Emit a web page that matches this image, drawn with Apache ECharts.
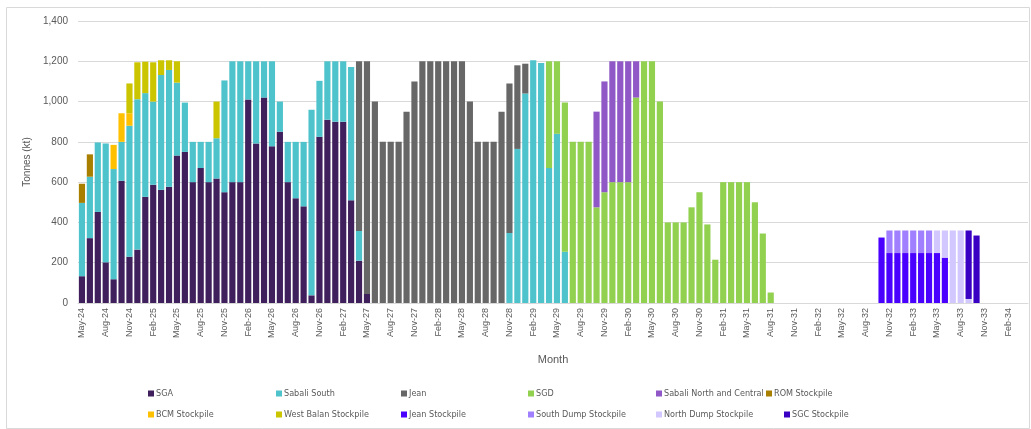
<!DOCTYPE html>
<html>
<head>
<meta charset="utf-8">
<script src="https://cdn.jsdelivr.net/npm/echarts@6/dist/echarts.min.js"></script>
<style>
  html, body { margin: 0; padding: 0; background: #fff; }
  #chart { width: 1031px; height: 429px; }
</style>
</head>
<body>
<div id="chart"></div>
<script>
// Monthly categories, May-24 .. Apr-34
const MONTH_NAMES = ['Jan','Feb','Mar','Apr','May','Jun','Jul','Aug','Sep','Oct','Nov','Dec'];
const FIRST_MONTH = 4;   // May
const FIRST_YEAR = 24;
const MONTH_COUNT = 120;
const months = [];
for (let i = 0; i < MONTH_COUNT; i++) {
  const m = FIRST_MONTH + i;
  months.push(MONTH_NAMES[m % 12] + '-' + (FIRST_YEAR + Math.floor(m / 12)));
}

// Tonnes (kt) per source; each list begins at the month index given by its *Start
const sgaStart = 0;
const sga = [133, 322, 452, 202, 118, 607, 230, 265, 527, 587, 562, 577, 732, 750, 600, 670, 600, 618,
             550, 600, 600, 1010, 792, 1020, 778, 850, 600, 520, 480, 38, 825, 910, 900, 900, 510, 210, 45];

const sabaliSouthStart = 0;
const sabaliSouth = [364, 305, 345, 590, 547, 193, 650, 747, 515, 413, 570, 580, 362, 245, 200, 130, 200, 200,
                     555, 600, 600, 190, 408, 180, 422, 150, 200, 280, 320, 922, 278, 290, 300, 300, 662, 148,
                     0, 0, 0, 0, 0, 0, 0, 0, 0, 0, 0, 0, 0, 0, 0, 0, 0, 0,
                     348, 765, 1040, 1205, 1192, 670, 840, 255];

const jeanStart = 35;
const jean = [842, 1155, 1000, 800, 800, 800, 950, 1100, 1200, 1200, 1200, 1200, 1200, 1200, 1000,
              800, 800, 800, 950, 742, 415, 148];

const sgdStart = 59;
const sgd = [530, 360, 740, 800, 800, 800, 475, 550, 600, 600, 600, 1020, 1200, 1200, 1000,
             400, 400, 400, 475, 550, 390, 215, 600, 600, 600, 600, 500, 345, 52];

const sabaliNorthStart = 65;
const sabaliNorth = [475, 550, 600, 600, 600, 180];

const romStart = 0;
const romStockpile = [95, 111];

const bcmStart = 4;
const bcmStockpile = [120, 142, 62];

const westBalanStart = 6;
const westBalanStockpile = [148, 183, 156, 195, 73, 48, 106, 0, 0, 0, 0, 182];

const jeanStockStart = 101;
const jeanStockpile = [325, 248, 248, 248, 248, 248, 248, 248, 225];

const southDumpStart = 102;
const southDumpStockpile = [112, 112, 112, 112, 112, 112];

const northDumpStart = 108;
const northDumpStockpile = [112, 135, 360, 360, 20];

const sgcStart = 112;
const sgcStockpile = [340, 335];

// Y axis ticks
const yMin = 0, yMax = 1400, yStep = 200;

function spread(start, values) {
  const out = new Array(MONTH_COUNT).fill('-');
  values.forEach((v, k) => { if (v) out[start + k] = v; });
  return out;
}

const seriesDefs = [
  { name: 'SGA', color: '#3F1F5C', data: spread(sgaStart, sga) },
  { name: 'Sabali South', color: '#4FC3CC', data: spread(sabaliSouthStart, sabaliSouth) },
  { name: 'Jean', color: '#676767', data: spread(jeanStart, jean) },
  { name: 'SGD', color: '#92D050', data: spread(sgdStart, sgd) },
  { name: 'Sabali North and Central', color: '#8F58C6', data: spread(sabaliNorthStart, sabaliNorth) },
  { name: 'ROM Stockpile', color: '#A97F00', data: spread(romStart, romStockpile) },
  { name: 'BCM Stockpile', color: '#FFC000', data: spread(bcmStart, bcmStockpile) },
  { name: 'West Balan Stockpile', color: '#CBC500', data: spread(westBalanStart, westBalanStockpile) },
  { name: 'Jean Stockpile', color: '#4A00FF', data: spread(jeanStockStart, jeanStockpile) },
  { name: 'South Dump Stockpile', color: '#A080FF', data: spread(southDumpStart, southDumpStockpile) },
  { name: 'North Dump Stockpile', color: '#D3C7FF', data: spread(northDumpStart, northDumpStockpile) },
  { name: 'SGC Stockpile', color: '#3900C4', data: spread(sgcStart, sgcStockpile) }
];

// Legend placement: two rows, six columns
const legendCols = [148, 276, 401, 528, 656, 766];
const legendRowTops = [389, 410];
const legendLayout = [
  [0, 0], [0, 1], [0, 2], [0, 3], [0, 4], [0, 5],
  [1, 0], [1, 1], [1, 2], [1, 3], [1, 4], [1, 5]
];
const legendFont = "'Liberation Sans Narrow', 'DejaVu Sans Condensed', 'Liberation Sans', Arial, sans-serif";
const legends = seriesDefs.map((s, i) => {
  const [row, col] = legendLayout[i];
  let left = legendCols[col];
  if (row === 1 && col === 5) left = 784;
  return {
    data: [s.name],
    left: left,
    top: legendRowTops[row],
    itemWidth: 6,
    itemHeight: 6,
    itemGap: 4,
    padding: 0,
    selectedMode: false,
    icon: 'rect',
    textStyle: { fontSize: 9, color: '#595959', fontFamily: legendFont, padding: [0, 0, 0, -3] }
  };
});

const chart = echarts.init(document.getElementById('chart'), null, { renderer: 'canvas' });
const axisFont = "'Liberation Sans', Arial, sans-serif";

chart.setOption({
  animation: false,
  backgroundColor: '#ffffff',
  grid: { left: 78, right: 3, top: 21, bottom: 126, containLabel: false },
  legend: legends,
  graphic: [{
    type: 'rect',
    shape: { x: 6.5, y: 7.5, width: 1023, height: 421 },
    style: { fill: 'none', stroke: '#D9D9D9', lineWidth: 1 },
    silent: true
  }],
  xAxis: {
    type: 'category',
    data: months,
    name: 'Month',
    nameLocation: 'middle',
    nameGap: 51,
    nameTextStyle: { fontSize: 11, color: '#595959', fontFamily: axisFont },
    axisLine: { lineStyle: { color: '#D9D9D9' } },
    axisTick: { show: false },
    axisLabel: {
      interval: 2,
      rotate: 90,
      fontSize: 9,
      color: '#595959',
      fontFamily: axisFont,
      margin: 5
    }
  },
  yAxis: {
    type: 'value',
    min: yMin,
    max: yMax,
    interval: yStep,
    name: 'Tonnes (kt)',
    nameLocation: 'middle',
    nameGap: 43,
    nameTextStyle: { fontSize: 10, color: '#595959', fontFamily: axisFont },
    axisLine: { show: false },
    axisTick: { show: false },
    splitLine: { lineStyle: { color: '#D9D9D9', width: 1 } },
    axisLabel: {
      fontSize: 10,
      color: '#595959',
      fontFamily: axisFont,
      margin: 10,
      formatter: v => v.toLocaleString('en-US')
    }
  },
  series: seriesDefs.map(s => ({
    name: s.name,
    type: 'bar',
    stack: 'total',
    data: s.data,
    barCategoryGap: '22%',
    itemStyle: { color: s.color },
    emphasis: { disabled: true }
  }))
});
</script>
</body>
</html>
